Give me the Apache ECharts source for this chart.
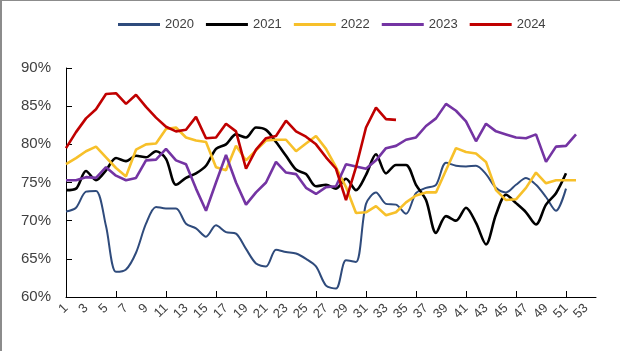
<!DOCTYPE html>
<html>
<head>
<meta charset="utf-8">
<script src="https://cdn.jsdelivr.net/npm/echarts@6/dist/echarts.min.js"></script>
<style>
  body { margin: 0; background: #fff; }
  #wrap { position: relative; width: 620px; height: 351px; }
  #main { width: 620px; height: 351px; }
  #frame {
    position: absolute; left: 0; top: 0; width: 620px; height: 351px;
    box-sizing: border-box; border-left: 2px solid #8c8c8c; border-top: 1px solid #8c8c8c;
    pointer-events: none;
  }
</style>
</head>
<body>
<div id="wrap">
  <div id="main"></div>
  <div id="frame"></div>
</div>
<script>
// week numbers on the x axis
const weeks = [1, 2, 3, 4, 5, 6, 7, 8, 9, 10, 11, 12, 13, 14, 15, 16, 17, 18, 19, 20,
  21, 22, 23, 24, 25, 26, 27, 28, 29, 30, 31, 32, 33, 34, 35, 36, 37, 38, 39, 40,
  41, 42, 43, 44, 45, 46, 47, 48, 49, 50, 51, 52, 53];
const years = ['2020', '2021', '2022', '2023', '2024'];

// weekly values, %
const y2020 = [71.2, 71.7, 73.8, 73.9, 69.3, 63.3, 63.6, 65.8, 69.6, 71.8, 71.6, 71.6, 69.6, 69.0, 67.9, 69.4, 68.5,
  68.3, 66.3, 64.4, 64.0, 66.2, 65.9, 65.7, 65.0, 64.0, 61.5, 61.1, 64.8, 64.6, 72.2, 73.7, 72.2, 72.1, 70.9,
  73.6, 74.3, 74.7, 77.6, 77.2, 77.1, 77.2, 76.1, 74.3, 73.7, 74.7, 75.6, 74.7, 73.1, 71.3, 74.2];
const y2021 = [74.0, 74.2, 76.5, 75.3, 76.6, 78.2, 77.8, 78.5, 78.3, 79.1, 78.1, 74.7, 75.6, 76.2, 77.2, 79.4, 80.0,
  81.3, 80.9, 82.2, 81.9, 80.3, 78.5, 76.7, 76.1, 74.5, 74.7, 74.2, 75.5, 74.0, 76.0, 78.7, 76.2, 77.3, 77.3,
  74.7, 72.7, 68.4, 70.6, 70.0, 71.7, 69.7, 66.9, 70.8, 73.4, 72.3, 71.1, 69.5, 72.1, 73.6, 76.2];
const y2022 = [77.4, 78.2, 79.1, 79.7, 78.3, 76.9, 75.8, 79.3, 80.0, 80.1, 82.0, 82.2, 80.9, 80.5, 80.3, 77.0, 76.6,
  79.8, 77.9, 79.2, 80.5, 80.6, 80.6, 79.1, 80.1, 81.1, 79.4, 77.0, 74.4, 71.0, 71.1, 71.9, 70.7, 71.1, 72.4,
  73.3, 73.7, 73.7, 76.6, 79.5, 79.0, 78.8, 77.7, 74.0, 72.7, 72.8, 74.3, 76.3, 74.9, 75.3, 75.3, 75.3];
const y2023 = [75.3, 75.3, 75.7, 75.6, 77.0, 75.9, 75.3, 75.6, 77.9, 78.0, 79.4, 77.9, 77.4, 74.2, 71.3, 75.0, 78.6,
  75.0, 72.1, 73.7, 75.0, 77.7, 76.3, 76.1, 74.3, 73.5, 74.4, 74.5, 77.4, 77.1, 76.8, 77.9, 79.5, 79.8, 80.6,
  80.9, 82.4, 83.4, 85.3, 84.4, 83.0, 80.4, 82.7, 81.7, 81.3, 80.9, 80.8, 81.3, 77.7, 79.7, 79.8, 81.3];
const y2024 = [79.5, 81.6, 83.4, 84.6, 86.6, 86.7, 85.3, 86.5, 84.9, 83.5, 82.3, 81.7, 81.9, 83.6, 80.8, 80.9, 82.7,
  81.7, 76.8, 79.3, 80.8, 81.1, 83.1, 81.7, 81.0, 80.0, 78.3, 76.8, 72.7, 77.0, 82.2, 84.8, 83.3, 83.2];

const colors = ['#2f4b7c', '#000000', '#f7c02a', '#7434a3', '#c00000'];
const seriesData = [y2020, y2021, y2022, y2023, y2024];
const smoothFlag = [0.3, 0.3, false, false, false];
const widths = [2, 2.6, 2.6, 2.6, 2.6];

const chart = echarts.init(document.getElementById('main'));
const font = '"Liberation Sans Narrow", "Liberation Sans", Arial, sans-serif';

const option = {
  animation: false,
  color: colors,
  legend: {
    left: 118,
    top: 18,
    padding: 0,
    itemWidth: 42,
    itemHeight: 3,
    itemGap: 12,
    icon: 'rect',
    textStyle: { fontFamily: font, fontSize: 13, color: '#404040' },
    data: years,
  },
  grid: { left: 66, right: 24, top: 68, bottom: 54 },
  xAxis: {
    type: 'category',
    boundaryGap: false,
    data: weeks.concat(['']),
    axisLine: { lineStyle: { color: '#000', width: 1 } },
    axisTick: { inside: true, length: 6, interval: 4, lineStyle: { color: '#000' } },
    axisLabel: { interval: 1, rotate: 45, fontFamily: font, fontSize: 13, color: '#404040', margin: 9 },
    splitLine: { show: false },
  },
  yAxis: {
    type: 'value',
    min: 60,
    max: 90,
    interval: 5,
    axisLine: { show: true, lineStyle: { color: '#000', width: 1 } },
    axisTick: { show: true, inside: true, length: 6, lineStyle: { color: '#000' } },
    axisLabel: { formatter: '{value}%', fontFamily: font, fontSize: 15, color: '#404040', margin: 15 },
    splitLine: { show: false },
  },
  series: years.map((name, i) => ({
    name,
    type: 'line',
    data: seriesData[i],
    smooth: smoothFlag[i],
    showSymbol: false,
    symbol: 'none',
    lineStyle: { width: widths[i], color: colors[i] },
  })),
};

chart.setOption(option);
</script>
</body>
</html>
